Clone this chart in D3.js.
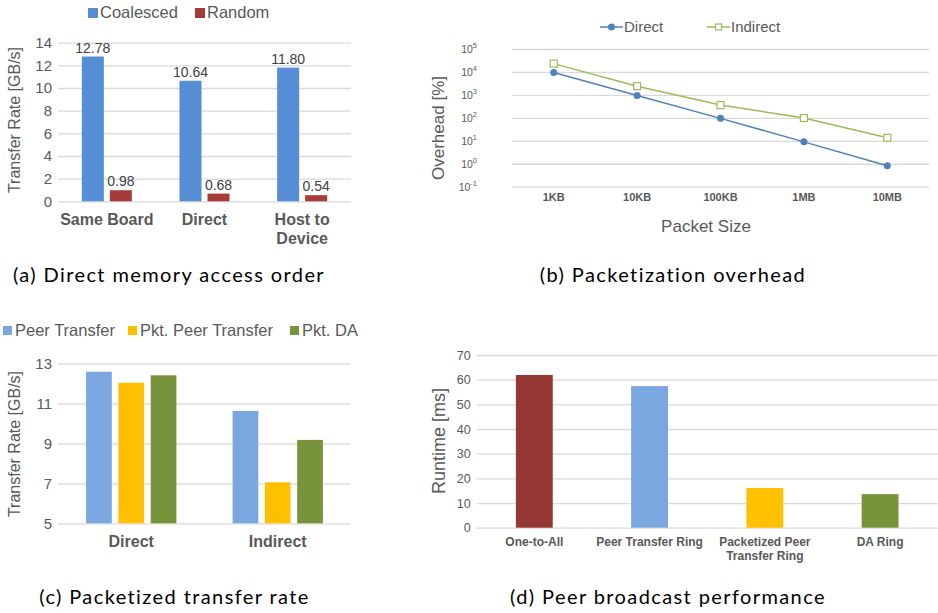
<!DOCTYPE html>
<html>
<head>
<meta charset="utf-8">
<script src="https://cdn.jsdelivr.net/npm/d3@7"></script>
<style>
  body { margin: 0; background: #fff; }
  svg { display: block; font-family: Arial, "Liberation Sans", sans-serif; }
  .caption { font-family: Lato, "Open Sans", sans-serif; font-size: 20px; letter-spacing: 1.4px; fill: #000; }
</style>
</head>
<body>
<svg id="fig" width="938" height="613"></svg>
<script>
// (a) memory access order
const memCategories = ["Same Board", "Direct", "Host to\nDevice"];
const memSeries = ["Coalesced", "Random"];
const coalesced = [12.78, 10.64, 11.80];
const random = [0.98, 0.68, 0.54];
const memTicks = [0, 2, 4, 6, 8, 10, 12, 14];

// (b) packetization overhead
const packetSizes = ["1KB", "10KB", "100KB", "1MB", "10MB"];
const overheadDirect = [9500, 950, 95, 9, 0.82];
const overheadIndirect = [23000, 2400, 360, 98, 13.5];
const overheadExponents = [-1, 0, 1, 2, 3, 4, 5];

// (c) packetized transfer rate
const rateCategories = ["Direct", "Indirect"];
const rateSeries = ["Peer Transfer", "Pkt. Peer Transfer", "Pkt. DA"];
const peerTransfer = [12.58, 10.62];
const pktPeerTransfer = [12.03, 7.05];
const pktDA = [12.4, 9.17];
const rateTicks = [5, 7, 9, 11, 13];

// (d) peer broadcast
const broadcastCategories = ["One-to-All", "Peer Transfer Ring", "Packetized Peer\nTransfer Ring", "DA Ring"];
const broadcastRuntime = [61.9, 57.4, 16.1, 13.6];
const runtimeTicks = [0, 10, 20, 30, 40, 50, 60, 70];

const captions = ["(a) Direct memory access order", "(b) Packetization overhead",
                  "(c) Packetized transfer rate", "(d) Peer broadcast performance"];

const grid = "#D9D9D9";
const textGrey = "#595959";

const svg = d3.select("#fig");

// helper: grid + tick labels from an axis
function yGrid(g, scale, ticks, x0, x1, fontSize, fmt) {
  const ax = g.append("g")
    .attr("transform", `translate(${x0},0)`)
    .call(d3.axisLeft(scale).tickValues(ticks).tickSize(-(x1 - x0)).tickPadding(6).tickFormat(fmt || (d => d)));
  ax.select(".domain").remove();
  ax.selectAll("line").style("stroke", grid).style("stroke-width", 1.3);
  ax.selectAll("text")
    .style("font-family", "Arial, 'Liberation Sans', sans-serif")
    .style("font-size", fontSize + "px")
    .style("fill", textGrey);
  return ax;
}

// multi-line category labels
function catLabels(g, scale, cats, y, fontSize, lineH) {
  cats.forEach(c => {
    const t = g.append("text")
      .attr("x", scale(c) + scale.bandwidth() / 2)
      .attr("y", y)
      .attr("text-anchor", "middle")
      .style("font-size", fontSize + "px")
      .style("font-weight", "bold")
      .style("fill", textGrey);
    c.split("\n").forEach((line, i) => {
      t.append("tspan").attr("x", scale(c) + scale.bandwidth() / 2).attr("dy", i ? lineH : 0).text(line);
    });
  });
}

function yTitle(g, text, x, y, fontSize) {
  g.append("text")
    .attr("transform", `translate(${x},${y}) rotate(-90)`)
    .attr("text-anchor", "middle")
    .style("font-size", fontSize + "px")
    .style("fill", textGrey)
    .text(text);
}

/* ---------- (a) ---------- */
{
  const g = svg.append("g");
  const x = d3.scaleBand().domain(memCategories).range([58, 351]);
  const sub = d3.scaleBand().domain(memSeries).range([0, x.bandwidth()]).paddingInner(0.214).paddingOuter(0.85);
  const y = d3.scaleLinear().domain([0, 14]).range([201.3, 42.7]);
  const colors = { Coalesced: "#558ED5", Random: "#A63C3A" };
  const values = { Coalesced: coalesced, Random: random };

  yGrid(g, y, memTicks, 58, 351, 15);

  memSeries.forEach(s => {
    g.selectAll(null)
      .data(memCategories.map((c, i) => ({ c, v: values[s][i] })))
      .join("rect")
      .attr("x", d => x(d.c) + sub(s))
      .attr("y", d => y(d.v))
      .attr("width", sub.bandwidth())
      .attr("height", d => y(0) - y(d.v))
      .style("fill", colors[s]);

    g.selectAll(null)
      .data(memCategories.map((c, i) => ({ c, v: values[s][i] })))
      .join("text")
      .attr("x", d => x(d.c) + sub(s) + sub.bandwidth() / 2)
      .attr("y", d => y(d.v) - 4)
      .attr("text-anchor", "middle")
      .style("font-size", "14px")
      .style("fill", "#404040")
      .text(d => d.v.toFixed(2));
  });

  catLabels(g, x, memCategories, 225, 16, 19);
  yTitle(g, "Transfer Rate [GB/s]", 20, 120, 16);

  // legend
  const lx = [88, 195];
  memSeries.forEach((s, i) => {
    g.append("rect").attr("x", lx[i]).attr("y", 8).attr("width", 10).attr("height", 10).style("fill", colors[s]);
    g.append("text").attr("x", lx[i] + 12).attr("y", 18)
      .style("font-size", "16.5px").style("fill", textGrey).text(s);
  });
}

/* ---------- (b) ---------- */
{
  const g = svg.append("g");
  const x = d3.scalePoint().domain(packetSizes).range([512, 929]).padding(0.5);
  const y = d3.scaleLog().domain([0.1, 1e5]).range([186.7, 49]);

  const ax = yGrid(g, y, overheadExponents.map(e => Math.pow(10, e)), 512, 929, 10.5, () => "");
  ax.selectAll("text").each(function (d) {
    const t = d3.select(this).attr("x", -35);
    t.append("tspan").text("10");
    t.append("tspan").attr("dy", -4.5).style("font-size", "7.5px").text(Math.round(Math.log10(d)));
  });

  const series = [
    { name: "Direct", values: overheadDirect, color: "#4F81BD", marker: "circle" },
    { name: "Indirect", values: overheadIndirect, color: "#9BBB59", marker: "square" }
  ];
  const line = d3.line().x(d => x(d.size)).y(d => y(d.v));

  series.forEach(s => {
    const pts = packetSizes.map((size, i) => ({ size, v: s.values[i] }));
    g.append("path").datum(pts).attr("d", line)
      .style("fill", "none").style("stroke", s.color).style("stroke-width", 1.5);
    if (s.marker === "circle") {
      g.selectAll(null).data(pts).join("circle")
        .attr("cx", d => x(d.size)).attr("cy", d => y(d.v)).attr("r", 3.5)
        .style("fill", s.color);
    } else {
      g.selectAll(null).data(pts).join("rect")
        .attr("x", d => x(d.size) - 3.5).attr("y", d => y(d.v) - 3.5)
        .attr("width", 7).attr("height", 7)
        .style("fill", "#fff").style("stroke", s.color).style("stroke-width", 1.2);
    }
  });

  g.selectAll(null).data(packetSizes).join("text")
    .attr("x", d => x(d)).attr("y", 201)
    .attr("text-anchor", "middle")
    .style("font-size", "11px").style("font-weight", "bold").style("fill", textGrey)
    .text(d => d);

  g.append("text").attr("x", 706).attr("y", 232).attr("text-anchor", "middle")
    .style("font-size", "17px").style("fill", textGrey).text("Packet Size");
  yTitle(g, "Overhead [%]", 444, 128, 17);

  // legend
  const lx = [600, 707];
  series.forEach((s, i) => {
    g.append("line").attr("x1", lx[i]).attr("x2", lx[i] + 23).attr("y1", 27).attr("y2", 27)
      .style("stroke", s.color).style("stroke-width", 1.5);
    if (s.marker === "circle") {
      g.append("circle").attr("cx", lx[i] + 11.5).attr("cy", 27).attr("r", 3.5).style("fill", s.color);
    } else {
      g.append("rect").attr("x", lx[i] + 8.5).attr("y", 24).attr("width", 6).attr("height", 6)
        .style("fill", "#fff").style("stroke", s.color).style("stroke-width", 1.2);
    }
    g.append("text").attr("x", lx[i] + 24).attr("y", 32)
      .style("font-size", "15px").style("fill", textGrey).text(s.name);
  });
}

/* ---------- (c) ---------- */
{
  const g = svg.append("g");
  const x = d3.scaleBand().domain(rateCategories).range([58, 351]);
  const sub = d3.scaleBand().domain(rateSeries).range([0, x.bandwidth()]).paddingInner(0.204).paddingOuter(0.87);
  const y = d3.scaleLinear().domain([5, 13]).range([523.3, 363.3]);
  const colors = { "Peer Transfer": "#7BA7E0", "Pkt. Peer Transfer": "#FFC000", "Pkt. DA": "#77933C" };
  const values = { "Peer Transfer": peerTransfer, "Pkt. Peer Transfer": pktPeerTransfer, "Pkt. DA": pktDA };

  yGrid(g, y, rateTicks, 58, 351, 15);

  rateSeries.forEach(s => {
    g.selectAll(null)
      .data(rateCategories.map((c, i) => ({ c, v: values[s][i] })))
      .join("rect")
      .attr("x", d => x(d.c) + sub(s))
      .attr("y", d => y(d.v))
      .attr("width", sub.bandwidth())
      .attr("height", d => y(5) - y(d.v))
      .style("fill", colors[s]);
  });

  catLabels(g, x, rateCategories, 547, 16, 19);
  yTitle(g, "Transfer Rate [GB/s]", 20, 444, 16);

  const lx = [3, 128, 290];
  rateSeries.forEach((s, i) => {
    g.append("rect").attr("x", lx[i]).attr("y", 326).attr("width", 9).attr("height", 9).style("fill", colors[s]);
    g.append("text").attr("x", lx[i] + 12).attr("y", 336)
      .style("font-size", "16.5px").style("fill", textGrey).text(s);
  });
}

/* ---------- (d) ---------- */
{
  const g = svg.append("g");
  const x = d3.scaleBand().domain(broadcastCategories).range([476.7, 937.7]);
  const y = d3.scaleLinear().domain([0, 70]).range([527.7, 355]);
  const colors = ["#953735", "#7BA7E0", "#FFC000", "#77933C"];
  const barW = x.bandwidth() * 0.32;

  yGrid(g, y, runtimeTicks, 476.7, 937.7, 12.5);

  g.selectAll(null)
    .data(broadcastCategories.map((c, i) => ({ c, v: broadcastRuntime[i], col: colors[i] })))
    .join("rect")
    .attr("x", d => x(d.c) + x.bandwidth() / 2 - barW / 2)
    .attr("y", d => y(d.v))
    .attr("width", barW)
    .attr("height", d => y(0) - y(d.v))
    .style("fill", d => d.col);

  catLabels(g, x, broadcastCategories, 546, 12, 14);
  yTitle(g, "Runtime [ms]", 445, 441, 18);
}

/* ---------- captions ---------- */
const capPos = [[169, 282], [673, 282], [174.5, 604], [668, 604]];
captions.forEach((c, i) => {
  svg.append("text").attr("class", "caption")
    .attr("x", capPos[i][0]).attr("y", capPos[i][1])
    .attr("text-anchor", "middle").text(c);
});
</script>
</body>
</html>
